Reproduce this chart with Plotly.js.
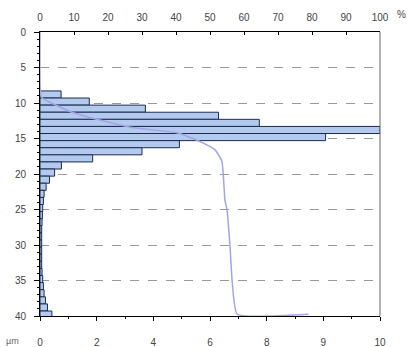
<!DOCTYPE html>
<html>
<head>
<meta charset="utf-8">
<script src="https://cdn.plot.ly/plotly-3.0.1.min.js"></script>
<style>html,body{margin:0;padding:0;background:#fff;}#chart{width:412px;height:347px;}</style>
</head>
<body>
<div id="chart"></div>
<script>
// Histogram bins (size in µm, bin centres) and frequency (bottom axis units)
var binCenters = [8.8, 9.8, 10.8, 11.8, 12.8, 13.8, 14.8, 15.8, 16.8, 17.8, 18.8, 19.8,
                  20.8, 21.8, 22.8, 23.8, 24.8, 25.8, 26.8, 27.8, 28.8, 29.8, 30.8,
                  31.8, 32.8, 33.8, 34.8, 35.8, 36.8, 37.8, 38.8, 39.8];
var binValues  = [0.62, 1.45, 3.1, 5.25, 6.45, 10.0, 8.4, 4.1, 3.0, 1.55, 0.63, 0.43,
                  0.28, 0.18, 0.12, 0.1, 0.08, 0.07, 0.06, 0.05, 0.05, 0.05, 0.05,
                  0.05, 0.05, 0.06, 0.08, 0.1, 0.12, 0.16, 0.22, 0.35];
// Cumulative curve (top axis, %)
var curvePct  = [0, 0.2, 0.9, 9.4, 17.6, 26.5, 40.3, 47, 51.5, 53.5, 54.4, 55, 55.9, 56.5, 58, 79];
var curveSize = [0, 8.9, 9.4, 11.3, 12.4, 13.4, 14.2, 15.4, 16.6, 18.2, 23.7, 25, 30.3, 35, 39.75, 39.75];
// Tick labels
var bottomTickText = ["0", "2", "4", "6", "8", "9", "10"];
var topTickVals = [0, 10, 20, 30, 40, 50, 60, 70, 80, 90, 100];
var leftTickVals = [0, 5, 10, 15, 20, 25, 30, 35, 40];

var bottomTickVals = bottomTickText.map(function(t, i){ return i * 10 / (bottomTickText.length - 1); });

var font = {family: "Liberation Sans, Arial, sans-serif", size: 10, color: "#444"};

var traces = [
  {
    type: "bar", orientation: "h",
    x: binValues, y: binCenters, width: 1,
    xaxis: "x", yaxis: "y",
    marker: {color: "#b3caee", line: {color: "#1c2b52", width: 1}},
    hoverinfo: "skip"
  },
  {
    type: "scatter", mode: "lines",
    x: curvePct, y: curveSize,
    xaxis: "x2", yaxis: "y",
    line: {color: "#a2a4e4", width: 1.5, shape: "spline", smoothing: 0.4},
    hoverinfo: "skip"
  }
];

var layout = {
  width: 412, height: 347,
  margin: {l: 40, r: 32, t: 32, b: 31},
  paper_bgcolor: "#fff", plot_bgcolor: "#fff",
  showlegend: false,
  bargap: 0,
  font: font,
  xaxis: {
    range: [0, 10], tickvals: bottomTickVals, ticktext: bottomTickText,
    showline: true, linecolor: "#000", linewidth: 1,
    ticks: "outside", ticklen: 4, tickcolor: "#000",
    minor: {tickvals: [0.8333, 2.5, 4.1667, 5.8333, 7.5, 9.1667], ticks: "outside", ticklen: 2, tickcolor: "#000"},
    showgrid: false, zeroline: false,
    ticklabelstandoff: 13, tickfont: font
  },
  xaxis2: {
    range: [0, 100], tickvals: topTickVals, overlaying: "x", side: "top",
    showline: true, linecolor: "#000", linewidth: 1,
    ticks: "inside", ticklen: 3, tickcolor: "#000",
    showgrid: false, zeroline: false,
    ticklabelstandoff: 6, tickfont: font
  },
  yaxis: {
    range: [40, 0], tickvals: leftTickVals,
    showline: true, linecolor: "#000", linewidth: 1,
    ticks: "outside", ticklen: 5, tickcolor: "#000",
    minor: {dtick: 1, ticks: "outside", ticklen: 2, tickcolor: "#000", showgrid: false},
    showgrid: true, gridcolor: "#9a9a9a", griddash: "dash", gridwidth: 1,
    zeroline: false,
    ticklabelstandoff: 6, tickfont: font
  },
  shapes: [
    {type: "line", xref: "paper", yref: "paper", x0: 1, x1: 1, y0: 0, y1: 1,
     line: {color: "#666", width: 1}}
  ],
  annotations: [
    {text: "µm", xref: "paper", yref: "paper", x: -0.055, y: -0.088, xanchor: "right", yanchor: "middle",
     showarrow: false, font: {family: font.family, size: 9, color: "#666"}},
    {text: "%", xref: "paper", yref: "paper", x: 1.045, y: 1.06, xanchor: "left", yanchor: "middle",
     showarrow: false, font: font}
  ]
};

Plotly.newPlot("chart", traces, layout, {displayModeBar: false, staticPlot: true});
</script>
</body>
</html>
